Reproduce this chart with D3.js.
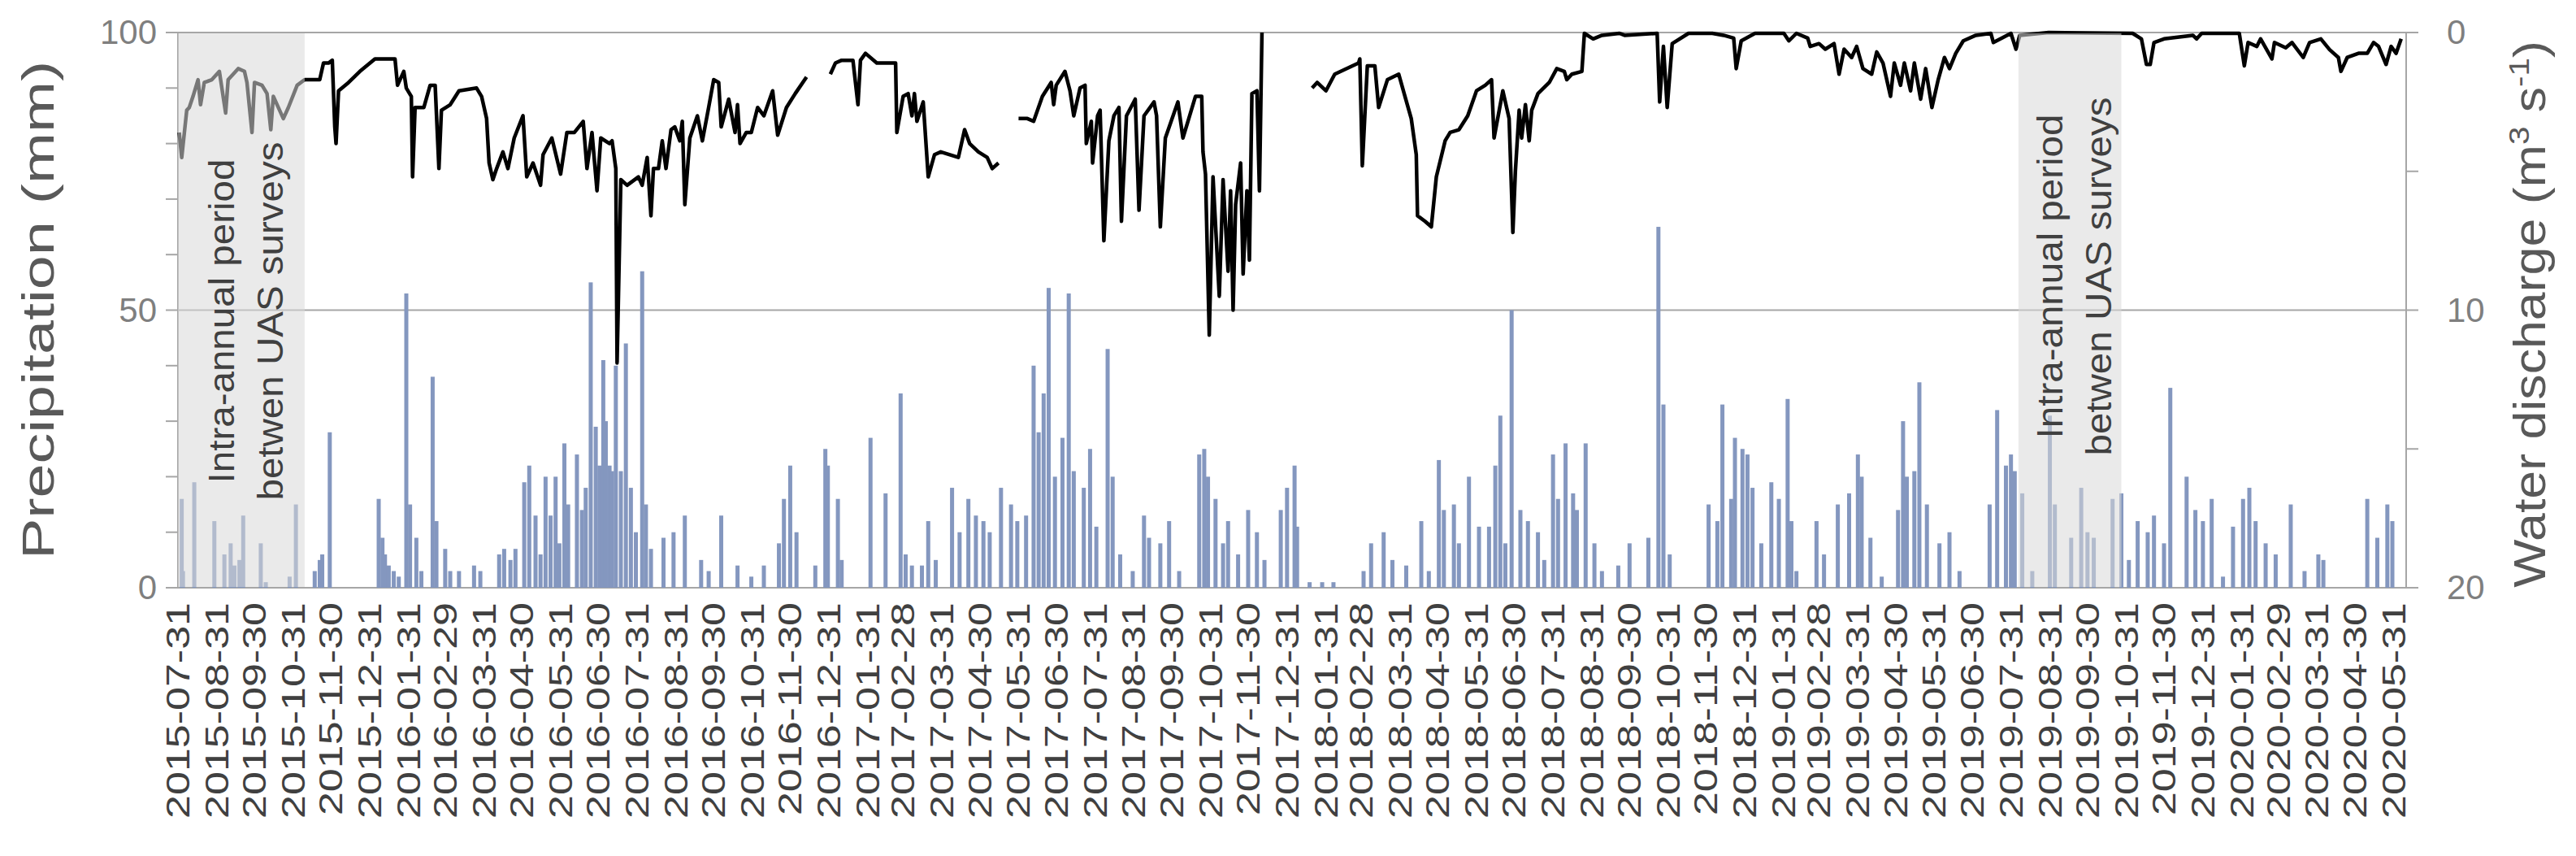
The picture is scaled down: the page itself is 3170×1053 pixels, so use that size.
<!DOCTYPE html>
<html>
<head>
<meta charset="utf-8">
<script src="https://cdn.jsdelivr.net/npm/d3@7"></script>
<style>
  body { margin: 0; background: #fff; }
  text { font-family: "Liberation Sans", Arial, sans-serif; }
</style>
</head>
<body>
<svg></svg>
<script>
const size = {w: 3170, h: 1053};
const plot = {l: 219, r: 2961, t: 40, b: 723};
const startDate = new Date(2015, 6, 31);
const endDay = 1776;

// precipitation: [day since 2015-07-31, mm]
const precipitation = [
  [3,16],[4,3],[13,19],[29,12],[37,6],[42,8],[45,4],[49,5],[52,13],[66,8],[70,1],[89,2],[94,15],
  [109,3],[113,5],[115,6],[121,28],[160,16],[163,9],[165,6],[168,4],[172,3],[176,2],[182,53],[185,15],
  [190,9],[194,3],[203,38],[206,12],[213,7],[217,3],[224,3],[236,4],[241,3],[256,6],[260,7],[265,5],
  [269,7],[276,19],[280,22],[285,13],[289,6],[293,20],[297,13],[301,20],[304,8],[308,26],[311,15],
  [318,24],[322,14],[325,18],[329,55],[333,29],[336,22],[339,41],[341,30],[344,22],[346,21],[349,40],
  [353,21],[357,44],[361,18],[365,10],[370,57],[373,15],[377,7],[387,9],[395,10],[404,13],[417,5],
  [423,3],[433,13],[446,4],[457,2],[467,4],[479,8],[483,16],[488,22],[493,10],[508,4],[516,25],
  [518,22],[526,16],[529,5],[552,27],[564,17],[576,35],[580,6],[585,4],[593,4],[598,12],[604,5],
  [617,18],[623,10],[630,16],[636,13],[642,12],[647,10],[656,18],[664,15],[669,12],[676,13],[682,40],
  [686,28],[690,35],[694,54],[699,20],[705,27],[710,53],[714,21],[722,18],[727,25],[732,11],[741,43],
  [745,20],[751,6],[761,3],[770,13],[774,9],[783,8],[790,12],[798,3],[814,24],[818,25],[821,20],
  [827,16],[833,8],[837,12],[845,6],[853,14],[860,10],[866,5],[879,14],[884,18],[890,22],[892,11],
  [902,1],[912,1],[921,1],[945,3],[951,8],[961,10],[968,5],[979,4],[991,12],[997,3],[1005,23],
  [1009,14],[1017,15],[1021,8],[1029,20],[1037,11],[1045,11],[1050,22],[1054,31],[1058,8],[1063,50],
  [1070,14],[1076,12],[1084,10],[1089,5],[1096,24],[1100,16],[1106,26],[1112,17],[1115,14],[1122,26],
  [1129,8],[1135,3],[1148,4],[1157,8],[1172,9],[1180,65],[1184,33],[1189,6],[1220,15],[1227,12],
  [1231,33],[1238,16],[1241,27],[1247,25],[1251,24],[1255,18],[1262,8],[1270,19],[1276,16],[1283,34],
  [1286,12],[1290,3],[1306,12],[1312,6],[1323,15],[1332,17],[1339,24],[1342,20],[1349,9],[1358,2],
  [1371,14],[1375,30],[1378,20],[1384,21],[1388,37],[1394,15],[1404,8],[1412,10],[1420,3],[1444,15],
  [1450,32],[1457,22],[1461,24],[1464,21],[1470,17],[1478,3],[1492,31],[1496,15],[1509,9],[1517,18],
  [1522,10],[1527,9],[1542,16],[1549,17],[1555,5],[1562,12],[1570,10],[1575,13],[1583,8],[1588,36],
  [1601,20],[1608,14],[1614,12],[1621,16],[1630,2],[1638,11],[1646,16],[1651,18],[1656,12],[1664,8],
  [1672,6],[1684,15],[1695,3],[1706,6],[1710,5],[1745,16],[1753,9],[1761,15],[1765,12]
];

// water discharge: [day since 2015-07-31, m3/s], null = missing record
const discharge = [
  [1,3.6],[3,4.5],[7,2.8],[9,2.7],[12,2.3],[16,1.7],[18,2.6],[21,1.8],[27,1.7],[33,1.4],[38,2.9],[40,1.7],
  [48,1.3],[53,1.4],[55,1.8],[59,3.6],[61,1.8],[67,1.9],[71,2.2],[74,3.5],[76,2.3],[81,2.8],[84,3.1],
  [88,2.7],[95,1.9],[101,1.7],[106,1.7],[113,1.7],[116,1.1],[120,1.1],[123,1.0],[125,3.4],[126,4.0],
  [128,2.1],[136,1.8],[145,1.4],[157,0.95],[166,0.95],[173,0.95],[175,1.9],[180,1.4],[182,2.0],[186,2.3],
  [187,5.2],[189,2.7],[196,2.7],[201,1.9],[205,1.9],[208,4.9],[210,2.8],[217,2.6],[224,2.1],[238,2.0],
  [242,2.3],[246,3.1],[248,4.7],[251,5.3],[254,4.9],[259,4.3],[263,4.9],[268,3.8],[275,3.0],[278,5.2],
  [283,4.7],[289,5.5],[291,4.4],[298,3.8],[305,5.1],[310,3.6],[316,3.6],[323,3.2],[326,4.9],[330,3.6],
  [334,5.7],[337,3.8],[344,4.0],[346,3.9],[349,4.9],[350,11.9],[353,5.3],[358,5.5],[367,5.2],[370,5.5],
  [374,4.5],[377,6.6],[379,4.9],[383,4.9],[386,3.9],[389,4.9],[393,3.5],[396,3.4],[400,3.9],[402,3.2],
  [404,6.2],[408,3.8],[414,3.0],[418,3.9],[423,2.7],[427,1.7],[431,1.8],[433,3.4],[439,2.4],[444,3.6],
  [446,2.6],[448,4.0],[453,3.6],[457,3.6],[462,2.7],[467,3.0],[474,2.1],[478,3.7],[485,2.7],[492,2.2],
  [501,1.6],[510,null],
  [520,1.5],[524,1.1],[529,1.0],[538,1.0],[542,2.6],[544,1.0],[548,0.75],[557,1.1],[566,1.1],[572,1.1],
  [573,3.6],[578,2.3],[582,2.2],[585,3.0],[587,2.2],[589,3.2],[594,2.5],[598,5.2],[603,4.4],[608,4.3],
  [622,4.5],[627,3.5],[631,4.0],[638,4.3],[645,4.5],[649,4.9],[654,4.7],[662,null],
  [670,3.1],[677,3.1],[682,3.2],[689,2.3],[696,1.8],[698,2.6],[700,1.9],[707,1.4],[711,2.1],[714,3.0],
  [719,2.0],[723,1.9],[724,4.0],[728,3.2],[729,4.7],[733,3.0],[735,2.8],[738,7.5],[742,3.9],[746,3.0],
  [750,2.7],[752,6.8],[756,3.0],[763,2.4],[766,6.4],[770,3.0],[778,2.5],[780,3.0],[783,7.0],[787,3.8],
  [797,2.5],[801,3.8],[805,3.2],[811,2.3],[816,2.3],[817,4.3],[819,5.1],[822,10.9],[825,5.2],[830,9.5],
  [833,5.3],[837,8.6],[839,5.7],[841,10.0],[843,6.2],[847,4.7],[849,8.7],[852,5.7],[854,8.2],[856,2.2],
  [860,2.1],[862,5.7],[864,0.0],[880,null],
  [904,2.0],[908,1.8],[915,2.1],[922,1.5],[941,1.1],[942,0.95],[944,4.8],[948,1.2],[954,1.2],[957,2.7],
  [964,1.7],[973,1.5],[978,2.3],[983,3.1],[987,4.4],[988,6.6],[994,6.8],[999,7.0],[1003,5.2],[1010,3.9],
  [1014,3.6],[1021,3.5],[1028,3.0],[1035,2.1],[1042,1.9],[1047,1.7],[1049,3.8],[1056,2.1],[1061,3.1],
  [1064,7.2],[1066,5.0],[1069,2.8],[1071,3.8],[1074,2.6],[1077,3.9],[1079,2.8],[1084,2.2],[1093,1.8],
  [1099,1.3],[1105,1.4],[1107,1.7],[1111,1.5],[1119,1.4],[1121,0.03],[1128,0.23],[1135,0.1],[1149,0.03],
  [1153,0.1],[1179,0.03],[1181,2.5],[1184,0.5],[1187,2.7],[1191,0.4],[1204,0.03],[1223,0.03],[1232,0.1],
  [1240,0.2],[1242,1.3],[1246,0.3],[1257,0.03],[1280,0.03],[1284,0.3],[1290,0.03],[1299,0.2],[1301,0.5],
  [1308,0.4],[1313,0.6],[1320,0.4],[1324,1.5],[1328,0.6],[1334,0.9],[1338,0.5],[1343,1.3],[1350,1.5],
  [1354,0.7],[1359,1.1],[1365,2.3],[1368,1.1],[1373,1.9],[1376,1.1],[1381,2.1],[1384,1.1],[1389,2.4],
  [1393,1.3],[1398,2.7],[1403,1.7],[1408,0.9],[1412,1.3],[1417,0.75],[1423,0.3],[1433,0.1],[1445,0.03],
  [1447,0.36],[1461,0.03],[1465,0.6],[1468,0.1],[1491,0.0],[1558,0.03],[1565,0.23],[1569,1.15],
  [1572,1.15],[1575,0.36],[1583,0.23],[1606,0.1],[1609,0.23],[1613,0.03],[1643,0.03],[1647,1.2],
  [1650,0.36],[1657,0.5],[1660,0.23],[1669,0.95],[1671,0.36],[1680,0.55],[1685,0.36],[1694,0.9],
  [1699,0.36],[1708,0.23],[1715,0.62],[1722,0.9],[1724,1.4],[1729,0.9],[1738,0.75],[1745,0.75],
  [1750,0.36],[1754,0.5],[1760,1.15],[1764,0.5],[1768,0.75],[1772,0.23]
];

// survey periods: [start day, end day]
const surveyPeriods = [[0, 101], [1467, 1549]];
const surveyLabel = ['Intra-annual period', 'betwen UAS surveys'];

const precipTicks = [0, 50, 100];
const dischargeTicks = [0, 10, 20];
// month-end category labels 2015-07-31 .. 2020-05-31
const monthEnds = d3.timeMonth.range(new Date(2015, 7, 1), new Date(2020, 5, 2))
  .map(d => d3.timeDay.offset(d, -1));

const toDate = day => d3.timeDay.offset(startDate, day);

const svg = d3.select('svg').attr('width', size.w).attr('height', size.h);

const x = d3.scaleTime().domain([startDate, toDate(endDay)]).range([plot.l, plot.r]);
const yP = d3.scaleLinear().domain([0, 100]).range([plot.b, plot.t]);
const yQ = d3.scaleLinear().domain([0, 20]).range([plot.t, plot.b]);

const grey = '#a6a6a6';

// gridlines
svg.append('g').selectAll('line').data(precipTicks).join('line')
  .attr('x1', plot.l).attr('x2', plot.r)
  .attr('y1', d => yP(d)).attr('y2', d => yP(d))
  .attr('stroke', grey).attr('stroke-width', 2);

// left minor ticks
svg.append('g').selectAll('line').data(d3.range(0, 101, 10)).join('line')
  .attr('x1', plot.l - 15).attr('x2', plot.l)
  .attr('y1', d => yP(d)).attr('y2', d => yP(d))
  .attr('stroke', grey).attr('stroke-width', 2);
// right minor ticks
svg.append('g').selectAll('line').data(d3.range(0, 21, 5)).join('line')
  .attr('x1', plot.r).attr('x2', plot.r + 15)
  .attr('y1', d => yQ(d)).attr('y2', d => yQ(d))
  .attr('stroke', grey).attr('stroke-width', 2);

// axis lines
svg.append('line').attr('x1', plot.l).attr('x2', plot.l).attr('y1', plot.t).attr('y2', plot.b)
  .attr('stroke', grey).attr('stroke-width', 2);
svg.append('line').attr('x1', plot.r).attr('x2', plot.r).attr('y1', plot.t).attr('y2', plot.b)
  .attr('stroke', grey).attr('stroke-width', 2);

// precipitation bars
svg.append('g').selectAll('rect').data(precipitation).join('rect')
  .attr('x', d => x(toDate(d[0])) - 2.5)
  .attr('width', 5)
  .attr('y', d => yP(d[1]))
  .attr('height', d => yP(0) - yP(d[1]))
  .attr('fill', '#8497bf');

// discharge line
const line = d3.line()
  .defined(d => d[1] !== null)
  .x(d => x(toDate(d[0])))
  .y(d => yQ(d[1]));
svg.append('path').datum(discharge)
  .attr('d', line)
  .attr('fill', 'none')
  .attr('stroke', '#000')
  .attr('stroke-width', 4.5)
  .attr('stroke-linejoin', 'round');

// survey period shading (drawn over the marks)
svg.append('g').selectAll('rect').data(surveyPeriods).join('rect')
  .attr('x', d => x(toDate(d[0])))
  .attr('width', d => x(toDate(d[1])) - x(toDate(d[0])))
  .attr('y', plot.t + 1).attr('height', plot.b - plot.t - 2)
  .attr('fill', '#d9d9d9').attr('opacity', 0.55);

const labelCentres = [395, 340];
surveyPeriods.forEach((p, i) => {
  const cx = (x(toDate(p[0])) + x(toDate(p[1]))) / 2;
  const t = svg.append('text')
    .attr('transform', `translate(${cx}, ${labelCentres[i]}) rotate(-90) scale(1.08,1)`)
    .attr('text-anchor', 'middle')
    .attr('font-size', 44)
    .attr('fill', '#404040');
  t.append('tspan').attr('x', 0).attr('dy', '-0.2em').text(surveyLabel[0]);
  t.append('tspan').attr('x', 0).attr('dy', '1.35em').text(surveyLabel[1]);
});

// y tick labels
svg.append('g').selectAll('text').data(precipTicks).join('text')
  .attr('x', plot.l - 26).attr('y', d => yP(d) + 14)
  .attr('text-anchor', 'end')
  .attr('font-family', '"Liberation Serif", serif')
  .attr('font-size', 42).attr('fill', '#7f7f7f')
  .text(d => d);
svg.append('g').selectAll('text').data(dischargeTicks).join('text')
  .attr('x', plot.r + 50).attr('y', d => yQ(d) + 14)
  .attr('text-anchor', 'start')
  .attr('font-family', '"Liberation Serif", serif')
  .attr('font-size', 42).attr('fill', '#7f7f7f')
  .text(d => d);

// x tick labels
const fmt = d3.timeFormat('%Y-%m-%d');
svg.append('g').selectAll('text').data(monthEnds).join('text')
  .attr('transform', d => `translate(${x(d) + 14}, ${plot.b + 18}) rotate(-90) scale(1.3,1)`)
  .attr('text-anchor', 'end')
  .attr('font-size', 40).attr('fill', '#404040')
  .text(d => fmt(d));

// axis titles
svg.append('text')
  .attr('transform', `translate(66, ${(plot.t + plot.b) / 2}) rotate(-90) scale(1.35,1)`)
  .attr('text-anchor', 'middle').attr('font-size', 56).attr('fill', '#595959')
  .text('Precipitation (mm)');
const rt = svg.append('text')
  .attr('transform', `translate(3132, ${(plot.t + plot.b) / 2 + 5}) rotate(-90) scale(1.12,1)`)
  .attr('text-anchor', 'middle').attr('font-size', 56).attr('fill', '#595959');
rt.append('tspan').text('Water discharge (m');
rt.append('tspan').attr('baseline-shift', 'super').attr('font-size', 36).text('3');
rt.append('tspan').text(' s');
rt.append('tspan').attr('baseline-shift', 'super').attr('font-size', 36).text('-1');
rt.append('tspan').text(')');
</script>
</body>
</html>
